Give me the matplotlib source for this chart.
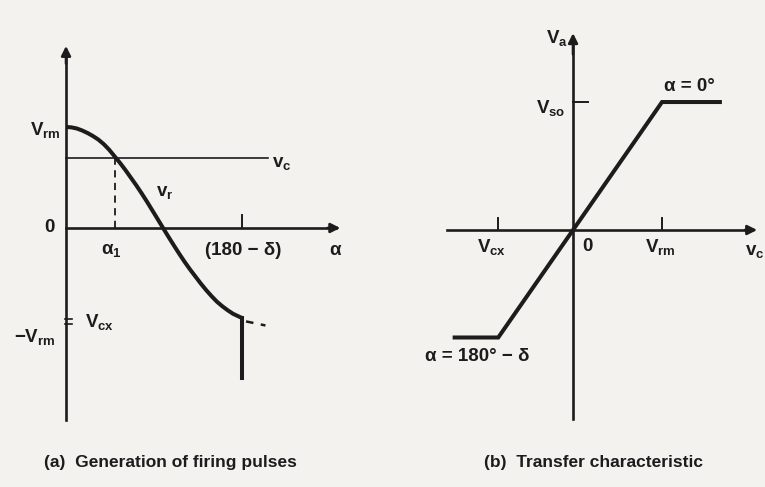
import matplotlib
matplotlib.use("Agg")
import matplotlib.pyplot as plt

plt.rcParams['font.family'] = ['Liberation Sans', 'DejaVu Sans']
plt.rcParams['font.weight'] = 'bold'
plt.rcParams['mathtext.fontset'] = 'custom'
plt.rcParams['mathtext.rm'] = 'Liberation Sans:bold'
plt.rcParams['mathtext.default'] = 'rm'

# reference voltage v_r (in units of V_rm) against firing angle alpha (deg)
alpha_deg = [0, 5, 10, 15, 20, 25, 30, 35, 40, 45, 50, 55, 60, 65, 70, 75, 80, 85,
             90, 95, 100, 105, 110, 115, 120, 125, 130, 135, 140, 145, 150, 155, 160, 163]
vr = [1.000, 0.996, 0.985, 0.965, 0.940, 0.910, 0.875, 0.830, 0.775, 0.710, 0.645,
      0.575, 0.500, 0.425, 0.345, 0.262, 0.175, 0.088, 0.0, -0.087, -0.172, -0.255,
      -0.335, -0.410, -0.480, -0.550, -0.615, -0.675, -0.730, -0.775, -0.815, -0.850,
      -0.875, -0.890]
vc_level = 0.69
alpha_1 = 45.5
alpha_end = 163
v_cx_left = -0.90
v_rm_neg = -0.95

# transfer characteristic: output voltage va against control voltage vc
vc_pts = [-1.33, -0.84, 1.0, 1.65]
va_pts = [-0.84, -0.84, 1.0, 1.0]
v_cx = -0.84
v_rm = 1.0
v_so = 1.0

ink = '#1c1c1c'
paper = '#f3f2ef'

fig = plt.figure(figsize=(7.65, 4.87), dpi=100, facecolor=paper)

# ---- (a) generation of firing pulses
ax1 = fig.add_axes([20 / 765, 47 / 487, 340 / 765, 410 / 487])
ax1.set_xlim(-42.7, 272.7)
ax1.set_ylim(-2.099, 1.96)
ax1.axis('off')

ax1.plot([0, 0], [-1.90, 1.75], color=ink, lw=1.9)
ax1.annotate('', xy=(0, 1.83), xytext=(0, 1.6),
             arrowprops=dict(arrowstyle='-|>', color=ink, lw=1.9, mutation_scale=14))
ax1.plot([0, 250], [0, 0], color=ink, lw=1.9)
ax1.annotate('', xy=(257, 0), xytext=(240, 0),
             arrowprops=dict(arrowstyle='-|>', color=ink, lw=1.9, mutation_scale=14))

ax1.plot(alpha_deg, vr, color=ink, lw=2.9, solid_capstyle='butt', solid_joinstyle='round')
ax1.plot([167, 185], [-0.925, -0.965], color=ink, lw=1.8, dashes=(3, 3))
ax1.plot([alpha_end, alpha_end], [vr[-1], -1.485], color=ink, lw=2.9)
ax1.plot([alpha_end, alpha_end], [0, 0.13], color=ink, lw=1.4)
ax1.plot([0, 187], [vc_level, vc_level], color=ink, lw=1.2)
ax1.plot([alpha_1, alpha_1], [0, vc_level], color=ink, lw=1.3, dashes=(4, 3))
for v in (v_cx_left, v_rm_neg):
    ax1.plot([-1, 5.5], [v, v], color=ink, lw=1.2)

kw = dict(color=ink, fontsize=13.5, va='center')
ax1.text(-4.6, 0.97, r'$V_{rm}$', ha='right', **kw)
ax1.text(-15, 0.0, '0', ha='center', **kw)
ax1.text(42.5, -0.22, r'$α_1$', ha='center', **kw)
ax1.text(164, -0.22, '(180 − δ)', ha='center', **kw)
ax1.text(249.5, -0.22, 'α', ha='center', **kw)
ax1.text(200, 0.64, r'$v_c$', ha='center', **kw)
ax1.text(92, 0.35, r'$v_r$', ha='center', **kw)
ax1.text(17.6, -0.93, r'$V_{cx}$', ha='left', **kw)
ax1.text(-9.3, -1.08, r'$-V_{rm}$', ha='right', **kw)

# ---- (b) transfer characteristic
ax2 = fig.add_axes([400 / 765, 47 / 487, 365 / 765, 420 / 487])
ax2.set_xlim(-1.944, 2.157)
ax2.set_ylim(-1.641, 1.641)
ax2.axis('off')

ax2.plot([0, 0], [-1.48, 1.45], color=ink, lw=1.9)
ax2.annotate('', xy=(0, 1.56), xytext=(0, 1.35),
             arrowprops=dict(arrowstyle='-|>', color=ink, lw=1.9, mutation_scale=14))
ax2.plot([-1.42, 2.0], [0, 0], color=ink, lw=1.9)
ax2.annotate('', xy=(2.10, 0), xytext=(1.9, 0),
             arrowprops=dict(arrowstyle='-|>', color=ink, lw=1.9, mutation_scale=14))

ax2.plot(vc_pts, va_pts, color=ink, lw=2.9, solid_joinstyle='miter')
ax2.plot([0, 0.17], [v_so, v_so], color=ink, lw=1.4)
for x in (v_cx, v_rm):
    ax2.plot([x, x], [0, 0.09], color=ink, lw=1.4)

ax2.text(-0.18, 1.5, r'$V_a$', ha='center', **kw)
ax2.text(-0.09, 0.95, r'$V_{so}$', ha='right', **kw)
ax2.text(1.31, 1.125, 'α = 0°', ha='center', **kw)
ax2.text(-0.91, -0.13, r'$V_{cx}$', ha='center', **kw)
ax2.text(0.16, -0.13, '0', ha='center', **kw)
ax2.text(0.98, -0.13, r'$V_{rm}$', ha='center', **kw)
ax2.text(2.04, -0.17, r'$v_c$', ha='center', **kw)
ax2.text(-1.08, -0.99, 'α = 180° − δ', ha='center', **kw)

cap = dict(color=ink, fontsize=12.5, va='center', ha='center')
fig.text(170 / 765, 1 - 463 / 487, '(a)  Generation of firing pulses', **cap)
fig.text(594 / 765, 1 - 463 / 487, '(b)  Transfer characteristic', **cap)

fig.savefig('out.png', dpi=100, facecolor=paper)
